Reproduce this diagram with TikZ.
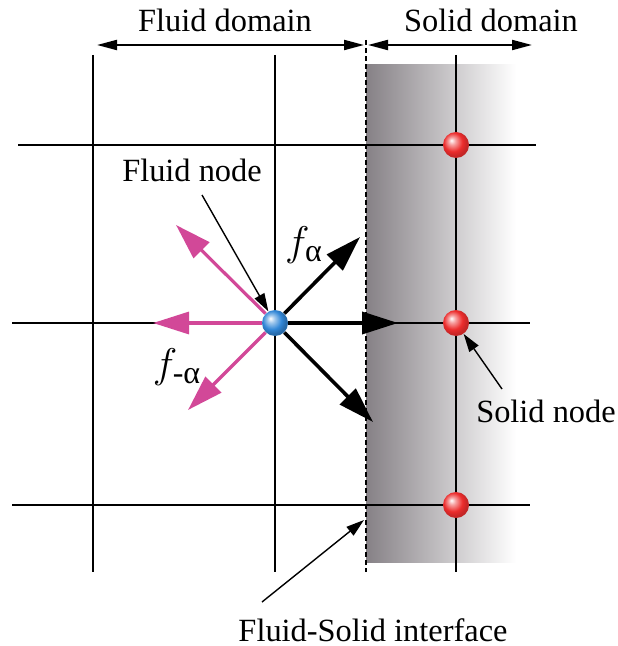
\documentclass[tikz,border=0pt]{standalone}
\usepackage{amsmath}
\usepackage{fontspec}
\setmainfont{Liberation Serif}
\usetikzlibrary{arrows.meta}
\definecolor{wallgray}{RGB}{134,129,134}
\definecolor{pinkarrow}{RGB}{210,72,152}
\definecolor{fluidblue}{RGB}{50,135,215}
\definecolor{solidred}{RGB}{236,45,45}
\pgfdeclareradialshading{fluidball}{\pgfpoint{-9bp}{9bp}}{color(0bp)=(white); color(7bp)=(fluidblue!45!white); color(18bp)=(fluidblue); color(25bp)=(fluidblue!80!black); color(50bp)=(fluidblue!60!black)}
\pgfdeclareradialshading{solidball}{\pgfpoint{-9bp}{9bp}}{color(0bp)=(white); color(7bp)=(solidred!45!white); color(18bp)=(solidred); color(25bp)=(solidred!85!black); color(50bp)=(solidred!60!black)}
\newcommand{\subsym}[1]{\text{\fontsize{16}{16}\selectfont #1}}

\begin{document}
\begin{tikzpicture}[x=0.5pt, y=-0.5pt, line join=round, >=Triangle,
		grid/.style={line width=1pt},
		ball/.style={circle, minimum size=13pt, inner sep=0pt},
		txt/.style={font=\fontsize{16.2}{19}\selectfont, inner sep=1pt},
		sym/.style={font=\fontsize{20}{24}\selectfont, inner sep=1pt},
		pointer/.style={line width=0.7pt, -{Triangle[length=9pt,width=5.5pt]}},
		span/.style={line width=1pt, {Triangle[length=10pt,width=5pt]}-{Triangle[length=10pt,width=5pt]}},
		fvec/.style={line width=1.8pt, -{Triangle[length=18pt,width=11pt]}},
		gvec/.style={pinkarrow, line width=1.6pt, -{Triangle[length=18pt,width=11pt]}}]
			\useasboundingbox (0,0) rectangle (617,646);
			% solid wall
			\shade[left color=wallgray, right color=white] (366,65) rectangle (516,562);
			% grid
			\draw[grid] (93,55) -- (93,572);
			\draw[grid] (275,55) -- (275,572);
			\draw[grid] (456,55) -- (456,572);
			\draw[grid] (18,145) -- (536,145);
			\draw[grid] (12,323) -- (530,323);
			\draw[grid] (12,505) -- (530,505);
			% interface
			\draw[line width=0.8pt, dash pattern=on 2.5pt off 1.5pt] (366,40) -- (366,572);
			% domains
			\coordinate (fl) at (97,45);
			\coordinate (iface) at (366,45);
			\coordinate (sr) at (532,45);
			\draw[span] (fl) -- ([xshift=-1pt]iface);
			\draw[span] ([xshift=1pt]iface) -- (sr);
			\node[txt] (fdom) at (225,20) {Fluid domain};
			\node[txt] (sdom) at (491,20) {Solid domain};
			% nodes
			\node[ball, shading=fluidball] (fluid) at (275,323) {};
			\node[ball, shading=solidball] (s1) at (456,145) {};
			\node[ball, shading=solidball] (s2) at (456,323) {};
			\node[ball, shading=solidball] (s3) at (456,505) {};
			% distributions
			\coordinate (ne) at (360,237);
			\coordinate (e) at (398,323);
			\coordinate (se) at (373,422);
			\coordinate (nw) at (176,225);
			\coordinate (w) at (153,323);
			\coordinate (sw) at (188,410);
			\draw[fvec] (fluid) -- (ne);
			\draw[fvec] (fluid) -- (e);
			\draw[fvec] (fluid) -- (se);
			\draw[gvec] (fluid) -- (nw);
			\draw[gvec] (fluid) -- (w);
			\draw[gvec] (fluid) -- (sw);
			% symbols
			\node[sym] (fa) at (304,245) {$f_{\subsym{α}}$};
			\node[sym] (fma) at (177,367) {$f_{\subsym{-α}}$};
			% labels
			\node[txt] (fnode) at (192,170) {Fluid node};
			\node[txt] (snode) at (546,411) {Solid node};
			\node[txt] (inode) at (373,630) {Fluid-Solid interface};
			\coordinate (fp) at (202,195);
			\coordinate (sp) at (502,389);
			\coordinate (ip) at (262,602);
			\coordinate (it) at (364,520);
			\draw[pointer] (fp) -- (fluid);
			\draw[pointer] (sp) -- (s2);
			\draw[pointer] (ip) -- (it);
		\end{tikzpicture}
\end{document}
